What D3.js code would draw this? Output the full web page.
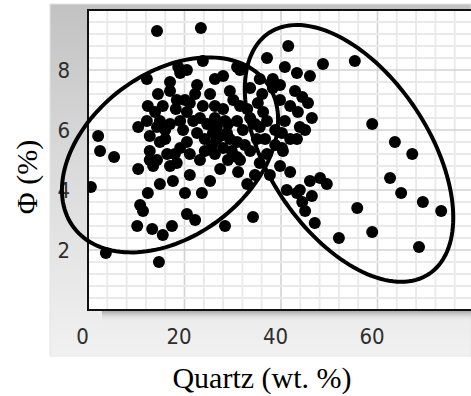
<!DOCTYPE html>
<html>
<head>
<meta charset="utf-8">
<script src="https://cdn.jsdelivr.net/npm/d3@7/dist/d3.min.js"></script>
<style>
  html, body { margin: 0; padding: 0; background: #fff; }
  svg { display: block; }
</style>
</head>
<body>
<script>
// Quartz content vs. porosity samples
const quartz = [
  14.3, 23.4, 0.6, 2.1, 2.5, 5.4, 3.7, 14.7, 10.8, 11.4, 10.2, 13.3, 15.5, 17.4, 20.5, 22.2,
  28.4, 12.4, 20.1, 23.6, 34.2, 43.3, 46.4, 44.4, 47.0, 45.0, 55.8, 58.9, 52.0, 69.4, 73.2, 68.6,
  64.9, 62.6, 67.2, 63.6, 58.9, 55.3, 48.7, 41.5, 37.1, 40.8, 43.3, 46.0, 38.3, 38.3, 42.9, 44.4,
  45.6, 43.5, 46.4, 43.9, 43.3, 40.2, 36.3, 33.6, 31.5, 29.4, 31.5, 33.6, 35.6, 35.0, 30.9, 30.9,
  33.6, 37.1, 40.4, 35.6, 31.1, 41.9, 46.0, 48.1, 49.5, 43.9, 33.0, 23.8, 28.0, 30.9, 20.5, 19.1,
  17.0, 22.6, 14.5, 12.4, 25.3, 17.0, 18.4, 15.5, 21.1, 20.5, 12.2, 10.4, 14.3, 17.0, 23.2, 24.7,
  26.7, 28.8, 32.1, 30.9, 28.0, 33.0, 30.1, 35.2, 37.1, 12.8, 12.8, 14.9, 16.4, 19.1, 20.5, 22.6,
  26.7, 28.0, 31.5, 23.2, 14.3, 10.4, 18.4, 17.0, 13.5, 17.6, 12.2, 18.7, 25.9, 29.4, 24.2, 26.3,
  29.0, 21.1, 19.7, 16.0, 13.9, 22.2, 26.3, 28.4, 38.8, 40.8, 41.9, 39.8, 36.7, 34.6, 27.4, 25.3,
  21.1, 14.9, 39.8, 37.7, 41.2, 26.3, 19.1, 24.2, 36.1, 40.2,
  18.2, 16.0, 18.0, 21.8, 23.8, 25.7, 27.4, 29.8, 32.5, 29.0, 34.6, 20.1, 14.9, 12.8, 38.8, 41.9,
  45.0, 39.8, 35.6, 26.3
];
const porosity = [
  9.3, 9.4, 4.1, 5.8, 5.3, 5.1, 1.9, 1.6, 3.5, 3.3, 2.8, 2.7, 2.5, 2.8, 3.2, 3.0,
  2.8, 3.9, 3.9, 3.9, 3.1, 3.9, 3.8, 3.6, 2.9, 3.3, 3.4, 2.6, 2.4, 3.6, 3.3, 2.1,
  3.9, 4.4, 5.2, 5.6, 6.2, 8.3, 8.2, 8.8, 8.4, 8.1, 7.9, 7.8, 7.7, 7.4, 7.3, 7.1,
  6.9, 6.6, 6.4, 6.1, 5.7, 5.4, 6.6, 7.4, 8.0, 7.3, 6.8, 6.4, 6.1, 5.7, 5.6, 5.1,
  5.3, 5.2, 5.3, 4.9, 4.6, 4.6, 4.3, 4.4, 4.2, 4.0, 4.2, 8.3, 7.8, 8.1, 8.0, 7.9,
  7.6, 7.5, 7.2, 6.8, 7.2, 7.3, 7.0, 6.8, 6.9, 6.6, 6.3, 6.1, 6.1, 6.2, 6.4, 6.2,
  6.1, 5.9, 6.0, 6.3, 6.7, 6.7, 7.0, 6.9, 6.3, 5.8, 5.3, 5.6, 5.2, 5.4, 5.6, 5.9,
  5.7, 5.4, 5.0, 5.0, 5.0, 4.7, 4.9, 4.8, 4.8, 4.3, 7.7, 8.1, 5.9, 5.7, 5.3, 5.2,
  5.0, 5.2, 6.0, 6.0, 6.6, 7.2, 6.8, 6.3, 6.0, 6.3, 6.8, 7.0, 5.7, 4.5, 4.7, 4.3,
  4.5, 4.2, 4.8, 4.5, 4.0, 7.7, 6.3, 5.7, 7.2, 5.9,
  6.7, 5.7, 5.2, 6.3, 6.8, 5.5, 5.8, 5.3, 5.5, 6.2, 6.2, 7.0, 6.3, 5.0, 5.5, 5.7,
  6.0, 7.5, 7.7, 6.4
];

// Group outlines: centre, half-extent along each axis, correlation
const groupCenterX = [17.0, 54.1];
const groupCenterY = [5.17, 5.22];
const groupSpreadX = [22.4, 21.6];
const groupSpreadY = [3.25, 4.28];
const groupCorr = [0.36, -0.5];

const xTicks = [0, 20, 40, 60];
const yTicks = [2, 4, 6, 8];
const xTitle = "Quartz (wt. %)";
const yTitle = "\u03A6 (%)";

const W = 471, H = 396;
const plot = { left: 88, top: 10, bottom: 310, right: 474 };

const x = d3.scaleLinear().domain([0, 80]).range([plot.left, plot.right]);
const y = d3.scaleLinear().domain([0, 10]).range([plot.bottom, plot.top]);

const svg = d3.select("body").append("svg").attr("width", W).attr("height", H);
const defs = svg.append("defs");

const panelGrad = defs.append("linearGradient").attr("id", "panelGrad")
  .attr("x1", 0).attr("y1", 0).attr("x2", 0).attr("y2", 1);
panelGrad.append("stop").attr("offset", "0%").attr("stop-color", "#c2c2c2");
panelGrad.append("stop").attr("offset", "45%").attr("stop-color", "#dadada");
panelGrad.append("stop").attr("offset", "100%").attr("stop-color", "#f1f1f1");

const shadowGrad = defs.append("linearGradient").attr("id", "shadowGrad")
  .attr("x1", 0).attr("y1", 0).attr("x2", 0).attr("y2", 1);
shadowGrad.append("stop").attr("offset", "0%").attr("stop-color", "#a8a8a8");
shadowGrad.append("stop").attr("offset", "100%").attr("stop-color", "#ededed").attr("stop-opacity", 0);

defs.append("clipPath").attr("id", "plotClip").append("rect")
  .attr("x", plot.left).attr("y", plot.top)
  .attr("width", plot.right - plot.left).attr("height", plot.bottom - plot.top);

// background panel
svg.append("rect").attr("x", 50).attr("y", 4).attr("width", W - 50).attr("height", 352)
  .attr("fill", "url(#panelGrad)").attr("stroke", "#e4e4e4").attr("stroke-width", 1);

// drop shadow under the plot frame
svg.append("rect").attr("x", plot.left + 14).attr("y", plot.bottom + 1)
  .attr("width", W).attr("height", 11).attr("fill", "url(#shadowGrad)");

// plot area
svg.append("rect").attr("x", plot.left).attr("y", plot.top)
  .attr("width", plot.right - plot.left).attr("height", plot.bottom - plot.top)
  .attr("fill", "#ffffff");

const grid = svg.append("g").attr("clip-path", "url(#plotClip)");
const xMinor = d3.range(0, 81, 4);
const yMinor = d3.range(0, 26).map(i => +(i * 0.4).toFixed(1));
const isMajorY = d => Math.abs(d / 2 - Math.round(d / 2)) < 1e-6;

grid.selectAll(".xm").data(xMinor).join("line")
  .attr("x1", d => x(d)).attr("x2", d => x(d))
  .attr("y1", plot.top).attr("y2", plot.bottom)
  .attr("stroke", d => d % 20 === 0 ? "#d2d2d2" : "#e9e9e9")
  .attr("stroke-width", d => d % 20 === 0 ? 1.6 : 1.8);
grid.selectAll(".ym").data(yMinor).join("line")
  .attr("y1", d => y(d)).attr("y2", d => y(d))
  .attr("x1", plot.left).attr("x2", plot.right)
  .attr("stroke", d => isMajorY(d) ? "#d2d2d2" : "#e9e9e9")
  .attr("stroke-width", d => isMajorY(d) ? 1.6 : 1.8);

// frame: left, top and bottom edges
svg.append("path")
  .attr("d", `M${W + 5},${plot.top}H${plot.left}V${plot.bottom}H${W + 5}`)
  .attr("fill", "none").attr("stroke", "#111").attr("stroke-width", 2);

// axes (labels only)
const tickFont = "'DejaVu Sans Condensed', 'DejaVu Sans', sans-serif";
const xAxis = svg.append("g").attr("transform", `translate(-6,${plot.bottom + 15})`)
  .call(d3.axisBottom(x).tickValues(xTicks).tickSize(0).tickFormat(d3.format("d")));
xAxis.select(".domain").remove();
xAxis.selectAll("text").attr("font-family", tickFont).attr("font-size", 22)
  .attr("font-stretch", "condensed").attr("fill", "#2e2e2e").attr("dy", "0.71em");

const yAxis = svg.append("g").attr("transform", `translate(${plot.left - 15},0)`)
  .call(d3.axisLeft(y).tickValues(yTicks).tickSize(0).tickFormat(d3.format("d")));
yAxis.select(".domain").remove();
yAxis.selectAll("text").attr("font-family", tickFont).attr("font-size", 22)
  .attr("font-stretch", "condensed").attr("fill", "#2e2e2e").attr("dy", "0.36em");

// points
const pts = quartz.map((q, i) => ({ q, p: porosity[i] }));
const marks = svg.append("g").attr("clip-path", "url(#plotClip)");
marks.selectAll("circle").data(pts).join("circle")
  .attr("cx", d => x(d.q)).attr("cy", d => y(d.p)).attr("r", 6)
  .attr("fill", "#000");

// group ellipses (drawn over the frame, not clipped)
const tSteps = d3.range(0, 145).map(i => i / 144 * Math.PI * 2);
const ellLine = d3.line().x(d => x(d[0])).y(d => y(d[1])).curve(d3.curveLinearClosed);
groupCenterX.forEach((cx, k) => {
  const sx = groupSpreadX[k], sy = groupSpreadY[k], r = groupCorr[k];
  const ring = tSteps.map(t => [
    cx + sx * Math.cos(t),
    groupCenterY[k] + sy * (r * Math.cos(t) + Math.sqrt(1 - r * r) * Math.sin(t))
  ]);
  svg.append("path").attr("d", ellLine(ring))
    .attr("fill", "none").attr("stroke", "#000").attr("stroke-width", 4);
});

// titles
svg.append("text").attr("x", 262).attr("y", 388).attr("text-anchor", "middle")
  .attr("font-family", "'Liberation Serif', 'Times New Roman', serif")
  .attr("font-size", 30).attr("fill", "#000").text(xTitle);
svg.append("text").attr("transform", "translate(37,177) rotate(-90)")
  .attr("text-anchor", "middle")
  .attr("font-family", "'Liberation Serif', 'Times New Roman', serif")
  .attr("font-size", 30).attr("fill", "#000").text(yTitle);
</script>
</body>
</html>
